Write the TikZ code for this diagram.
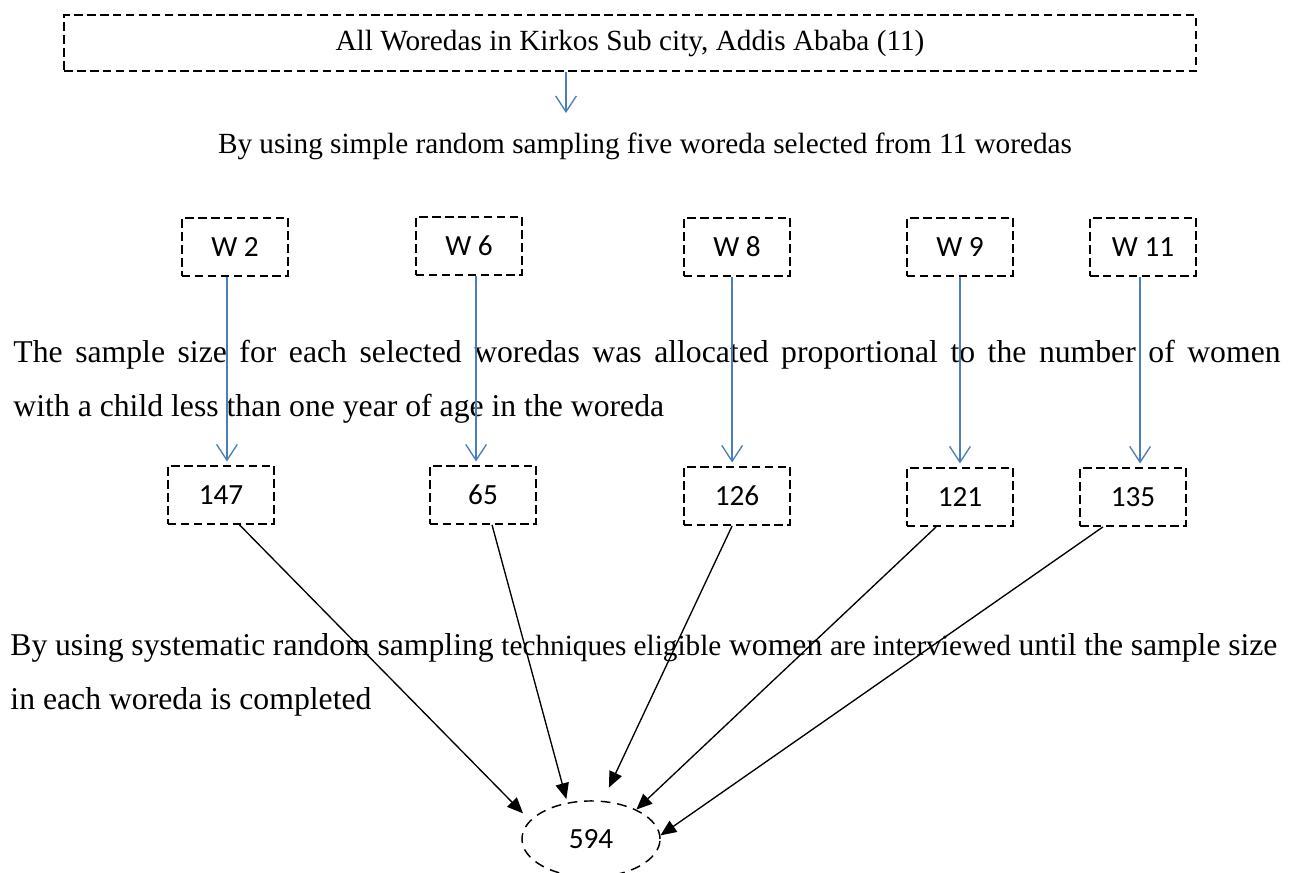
\documentclass[tikz,border=0pt]{standalone}
\usepackage{fontspec}
\setmainfont{Liberation Serif}
\newfontfamily\calibri{Carlito}
\usepackage{tikz}
\usetikzlibrary{shapes.geometric, arrows.meta}
\definecolor{blueline}{HTML}{4A7EBB}

\begin{document}
\begin{tikzpicture}[x=0.41pt, y=-0.41pt,
  dbox/.style = {draw, line width=0.7pt, dash pattern=on 3.5pt off 1.8pt, inner sep=0pt,
    minimum width=43.5pt, minimum height=23.8pt, font=\calibri\fontsize{12}{14}\selectfont},
  blue line/.style = {draw=blueline, line width=0.55pt, -{Straight Barb[length=6.5pt, width=8.5pt]}, shorten >=1.5pt},
  black line/.style = {line width=0.55pt, -{Triangle[length=6.5pt, width=5.5pt]}},
  txt/.style = {inner sep=0pt, font=\fontsize{12}{14}\selectfont},
  para/.style = {inner sep=0pt, anchor=base west, text width=519.5pt, align=justify, font=\fontsize{13}{22.5}\selectfont}]
\useasboundingbox (0,0) rectangle (1296,872);
\node[dbox, minimum width=464pt, minimum height=23pt, font=\fontsize{12}{14}\selectfont] (all) at (630,43) {All Woredas in Kirkos Sub city, Addis Ababa (11)};
\coordinate (sel) at (566,113);
\draw[blue line, shorten >=0pt] (all.south -| sel) -- (sel);
\node[txt, anchor=base] (srs) at (645,153) {By using simple random sampling five woreda selected from 11 woredas};

\node[dbox] (w2) at (235,247) {W 2};
\node[dbox] (w6) at (469,246) {W 6};
\node[dbox] (w8) at (737,247) {W 8};
\node[dbox] (w9) at (960,247) {W 9};
\node[dbox] (w11) at (1143,247) {W 11};

\node[dbox] (n147) at (221,495) {147};
\node[dbox] (n65) at (483,495) {65};
\node[dbox] (n126) at (737,496) {126};
\node[dbox] (n121) at (960,497) {121};
\node[dbox] (n135) at (1133,497) {135};

\node[para] (alloc) at (13,362)
  {The sample size for each selected woredas was allocated proportional to the number of women\linebreak
   with a child less than one year of age in the woreda};
\node[para] (sys) at (10,655)
  {By using systematic random sampling {\fontsize{12}{14}\selectfont techniques eligible} women {\fontsize{12}{14}\selectfont are interviewed} until the sample size\linebreak
   in each woreda is completed};

\node[draw, ellipse, line width=0.6pt, dash pattern=on 4pt off 2.8pt, minimum width=56.6pt,
  minimum height=31.2pt, inner sep=0pt, font=\calibri\fontsize{12}{14}\selectfont] (tot) at (591,839) {594};

\draw[blue line] ([xshift=-3.3pt]w2.south) -- ([xshift=-3.3pt]w2.south |- n147.north);
\draw[blue line] ([xshift=2.9pt]w6.south) -- ([xshift=2.9pt]w6.south |- n65.north);
\draw[blue line] ([xshift=-2pt]w8.south) -- ([xshift=-2pt]w8.south |- n126.north);
\draw[blue line] (w9.south) -- (w9.south |- n121.north);
\draw[blue line] ([xshift=-1.2pt]w11.south) -- ([xshift=-1.2pt]w11.south |- n135.north);

\draw[black line, shorten >=4pt] ([xshift=7.6pt]n147.south) -- (tot.163);
\draw[black line, shorten >=1.5pt] ([xshift=3.7pt]n65.south) -- (tot.123);
\draw[black line, shorten >=6pt] ([xshift=-2pt]n126.south) -- (tot.73);
\draw[black line] ([xshift=-9.8pt]n121.south) -- (tot.33);
\draw[black line] ([xshift=-12.3pt]n135.south) -- (tot.3);
\end{tikzpicture}
\end{document}
